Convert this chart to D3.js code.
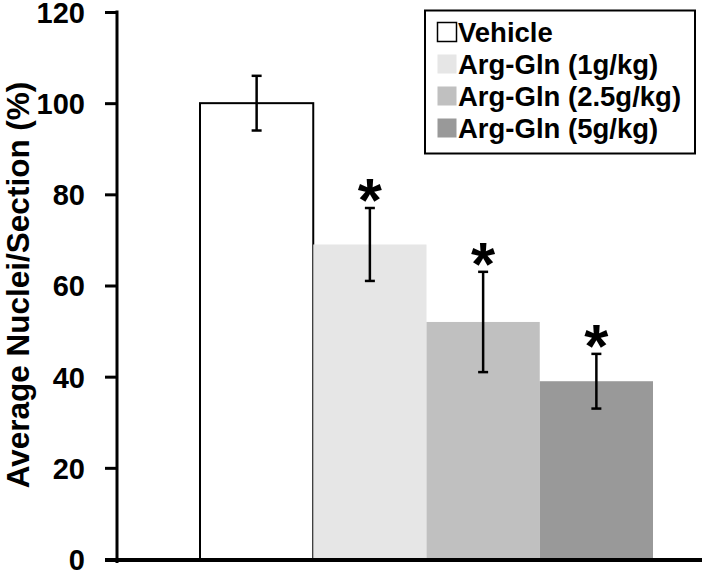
<!DOCTYPE html>
<html><head><meta charset="utf-8">
<script src="https://cdn.jsdelivr.net/npm/d3@7"></script>
<style>body{margin:0;background:#fff}svg{display:block}text{font-family:"Liberation Sans",Arial,sans-serif;font-weight:bold;fill:#000}</style>
</head><body><svg id="c" width="702" height="572"></svg>
<script>
const categories = ["Vehicle", "Arg-Gln (1g/kg)", "Arg-Gln (2.5g/kg)", "Arg-Gln (5g/kg)"];
const values = [100, 69, 52, 39];
const errors = [6, 8, 11, 6];
const significant = [false, true, true, true];
const colors = ["#ffffff", "#e6e6e6", "#c0c0c0", "#999999"];
const yTicks = [0, 20, 40, 60, 80, 100, 120];
const yTitle = "Average Nuclei/Section (%)";

const svg = d3.select("#c");
const y = d3.scaleLinear().domain([0, 120]).range([559, 12]);
const x = d3.scaleBand().domain(categories).range([200, 653]).padding(0);

// bars
svg.selectAll("rect.bar").data(categories).enter().append("rect")
  .attr("x", d => x(d)).attr("width", x.bandwidth())
  .attr("y", (d, i) => y(values[i])).attr("height", (d, i) => y(0) - y(values[i]))
  .attr("fill", (d, i) => colors[i])
  .attr("stroke", (d, i) => i === 0 ? "#000" : "none").attr("stroke-width", 2);

// error bars
const eb = svg.append("g").attr("stroke", "#000").attr("stroke-width", 2.5);
const starSize = 62;
categories.forEach((c, i) => {
  const cx = x(c) + x.bandwidth() / 2;
  const t = y(values[i] + errors[i]), b = y(values[i] - errors[i]);
  eb.append("line").attr("x1", cx).attr("x2", cx).attr("y1", t).attr("y2", b);
  eb.append("line").attr("x1", cx - 5).attr("x2", cx + 5).attr("y1", t).attr("y2", t);
  eb.append("line").attr("x1", cx - 5).attr("x2", cx + 5).attr("y1", b).attr("y2", b);
  if (significant[i]) {
    svg.append("text").attr("x", cx).attr("y", t - 21 + 0.55 * starSize).attr("text-anchor", "middle")
      .style("font-size", starSize + "px").text("*");
  }
});

// y axis
const yAxis = d3.axisLeft(y).tickValues(yTicks).tickSize(12).tickPadding(20).tickFormat(d3.format("d"));
const gy = svg.append("g").attr("transform", "translate(117,0)").call(yAxis);
gy.select(".domain").remove();
gy.selectAll(".tick line").attr("stroke", "#000").attr("stroke-width", 3);
gy.selectAll(".tick text").style("font-size", "29px").style("font-family", '"Liberation Sans",Arial,sans-serif').style("font-weight", "bold").attr("fill", "#000").attr("dy", "0.36em");
svg.append("line").attr("x1", 117).attr("x2", 117).attr("y1", y(120) - 1.5).attr("y2", y(0) + 4)
  .attr("stroke", "#000").attr("stroke-width", 3);
// x axis
svg.append("line").attr("x1", 105).attr("x2", 702).attr("y1", y(0) + 1).attr("y2", y(0) + 1)
  .attr("stroke", "#000").attr("stroke-width", 4);

// y title
svg.append("text").attr("transform", "translate(29," + 285 + ") rotate(-90)")
  .attr("text-anchor", "middle").style("font-size", "31.5px").text(yTitle);

// legend
const lg = svg.append("g");
lg.append("rect").attr("x", 425).attr("y", 10.5).attr("width", 270).attr("height", 143)
  .attr("fill", "#fff").attr("stroke", "#000").attr("stroke-width", 2);
categories.forEach((c, i) => {
  const base = 42 + i * 32;
  lg.append("rect").attr("x", 437.5).attr("y", base - 19.5).attr("width", 19).attr("height", 19)
    .attr("fill", colors[i]).attr("stroke", i === 0 ? "#000" : "none").attr("stroke-width", 1.5);
  lg.append("text").attr("x", 458).attr("y", base).style("font-size", "27.5px").text(c);
});
</script></body></html>
